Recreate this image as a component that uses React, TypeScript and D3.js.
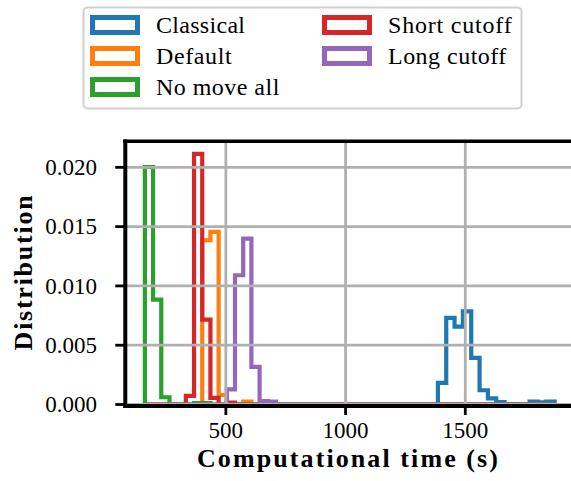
import React from "react";
import * as d3 from "d3";

// Series, in drawing order
const seriesNames = ["Classical", "Default", "No move all", "Short cutoff", "Long cutoff"];
const seriesColors = ["#1f77b4", "#ff7f0e", "#2ca02c", "#d62728", "#9467bd"];

// Shared bin grid (seconds) used by all runs except Classical
const sharedBinStart = 161.8;
const sharedBinWidth = 34.22;
const sharedBinCount = 50;

// Classical has its own bins
const classicalBinStart = 1385.6;
const classicalBinWidth = 34.82;

// Densities per bin (bins not listed are empty)
const classicalDensity = [
  0.00183, 0.0073, 0.00657, 0.00785, 0.00393, 0.0012, 0.00052, 0.0002, 0.00004, 0, 0, 0.00025,
  0.00018, 0.00025,
];
const defaultDensity = [0, 0, 0, 0, 0, 0, 0, 0.01385, 0.01455, 0.0008, 0, 0, 0.00025];
const noMoveAllDensity = [0.02003, 0.00884, 0.00061, 0, 0, 0, 0.00012, 0.00012];
const shortCutoffDensity = [0, 0, 0, 0, 0, 0.00072, 0.02114, 0.00716, 0.00056, 0, 0.00015];
const longCutoffDensity = [
  0, 0, 0, 0, 0, 0, 0, 0, 0, 0, 0.00128, 0.0109, 0.01399, 0.00318, 0.00028, 0.00025,
];

const xTicks = [500, 1000, 1500];
const yTicks = [0, 0.005, 0.01, 0.015, 0.02];

const xLabel = "Computational time (s)";
const yLabel = "Distribution";

type Hist = { name: string; color: string; start: number; width: number; values: number[] };

const padTo = (vals: number[], n: number) =>
  Array.from({ length: n }, (_, i) => (i < vals.length ? vals[i] : 0));

const hists: Hist[] = [
  { start: classicalBinStart, width: classicalBinWidth, values: classicalDensity },
  { start: sharedBinStart, width: sharedBinWidth, values: padTo(defaultDensity, sharedBinCount) },
  { start: sharedBinStart, width: sharedBinWidth, values: padTo(noMoveAllDensity, sharedBinCount) },
  { start: sharedBinStart, width: sharedBinWidth, values: padTo(shortCutoffDensity, sharedBinCount) },
  { start: sharedBinStart, width: sharedBinWidth, values: padTo(longCutoffDensity, sharedBinCount) },
].map((h, i) => ({ ...h, name: seriesNames[i], color: seriesColors[i] }));

// Layout
const W = 571;
const H = 481;
const plotLeft = 124.4;
const plotRight = 575.1;
const plotTop = 141.3;
const plotBottom = 404.5;
const FONT = "Liberation Serif";

const legendBox = { x: 83.5, y: 7.5, w: 438, h: 101 };
const legendCols = [
  { handleX: 92.5, textX: 156 },
  { handleX: 324.5, textX: 388 },
];
const legendRowsY = [25, 56, 87];
const legendTextLengths = [89, 75.7, 123.3, 123.7, 118.3];

export default function App() {
  const dataMin = sharedBinStart;
  const dataMax = Math.max(
    sharedBinStart + sharedBinCount * sharedBinWidth,
    classicalBinStart + classicalDensity.length * classicalBinWidth
  );
  const pad = 0.05 * (dataMax - dataMin);
  const x = d3.scaleLinear().domain([dataMin - pad, dataMax + pad]).range([plotLeft, plotRight]);

  const yMax = 1.05 * (d3.max(hists.flatMap((h) => h.values)) as number);
  const y = d3.scaleLinear().domain([0, yMax]).range([plotBottom, plotTop]);

  const line = d3
    .line<[number, number]>()
    .x((d) => x(d[0]))
    .y((d) => y(d[1]));

  const stepPoints = (h: Hist): [number, number][] => {
    const pts: [number, number][] = [[h.start, 0]];
    h.values.forEach((v, i) => {
      pts.push([h.start + i * h.width, v]);
      pts.push([h.start + (i + 1) * h.width, v]);
    });
    pts.push([h.start + h.values.length * h.width, 0]);
    return pts;
  };

  const fmtY = d3.format(".3f");
  const spineW = 4;
  const bottomSpineY = plotBottom + 1.5;
  const leftSpineX = plotLeft + 0.9;

  return (
    <svg width={W} height={H} style={{ position: "absolute", left: 0, top: 0, background: "#fff" }}>
      <rect x={0} y={0} width={W} height={H} fill="#fff" />

      {/* histograms */}
      {hists.map((h) => (
        <path
          key={h.name}
          d={line(stepPoints(h)) || ""}
          fill="none"
          stroke={h.color}
          strokeWidth={4.2}
          strokeLinejoin="miter"
        />
      ))}

      {/* grid */}
      <g stroke="#b0b0b0" strokeWidth={2.8}>
        {xTicks.map((t) => (
          <line key={"gx" + t} x1={x(t)} x2={x(t)} y1={plotTop} y2={plotBottom} />
        ))}
        {yTicks.map((t) => (
          <line key={"gy" + t} x1={plotLeft} x2={plotRight} y1={y(t)} y2={y(t)} />
        ))}
      </g>

      {/* spines */}
      <g stroke="#000" strokeWidth={spineW}>
        <line x1={leftSpineX} x2={leftSpineX} y1={plotTop - 1.8} y2={bottomSpineY + 2} />
        <line x1={leftSpineX - 2} x2={plotRight} y1={bottomSpineY} y2={bottomSpineY} />
        <line x1={leftSpineX - 2} x2={plotRight} y1={plotTop} y2={plotTop} strokeWidth={3.4} />
      </g>

      {/* ticks */}
      <g stroke="#000" strokeWidth={2.8}>
        {xTicks.map((t) => (
          <line key={"tx" + t} x1={x(t)} x2={x(t)} y1={bottomSpineY} y2={bottomSpineY + 9} />
        ))}
        {yTicks.map((t) => (
          <line key={"ty" + t} x1={leftSpineX - 10} x2={leftSpineX} y1={y(t)} y2={y(t)} />
        ))}
      </g>

      {/* tick labels */}
      {xTicks.map((t) => (
        <text key={"lx" + t} x={x(t)} y={438} textAnchor="middle" fontFamily={FONT} fontSize={23}>
          {t}
        </text>
      ))}
      {yTicks.map((t) => (
        <text
          key={"ly" + t}
          x={97}
          y={y(t)}
          dy="0.34em"
          textAnchor="end"
          fontFamily={FONT}
          fontSize={23}
        >
          {fmtY(t)}
        </text>
      ))}

      {/* axis labels */}
      <text
        x={347.5}
        y={467}
        textAnchor="middle"
        fontFamily={FONT}
        fontSize={26}
        fontWeight="bold"
        textLength={301}
        lengthAdjust="spacing"
      >
        {xLabel}
      </text>
      <text
        transform={`translate(31.5, ${(plotTop + plotBottom) / 2}) rotate(-90)`}
        textAnchor="middle"
        fontFamily={FONT}
        fontSize={26}
        fontWeight="bold"
        textLength={155}
        lengthAdjust="spacing"
      >
        {yLabel}
      </text>

      {/* legend */}
      <rect
        x={legendBox.x}
        y={legendBox.y}
        width={legendBox.w}
        height={legendBox.h}
        rx={4}
        fill="#fff"
        stroke="#d0d0d0"
        strokeWidth={2}
      />
      {hists.map((h, i) => {
        const col = legendCols[i < 3 ? 0 : 1];
        const cy = legendRowsY[i < 3 ? i : i - 3];
        return (
          <g key={"lg" + h.name}>
            <rect
              x={col.handleX}
              y={cy - 7.5}
              width={45}
              height={15}
              fill="none"
              stroke={h.color}
              strokeWidth={5}
            />
            <text
              x={col.textX}
              y={cy + 8}
              fontFamily={FONT}
              fontSize={24}
              textLength={legendTextLengths[i]}
              lengthAdjust="spacing"
            >
              {h.name}
            </text>
          </g>
        );
      })}
    </svg>
  );
}
